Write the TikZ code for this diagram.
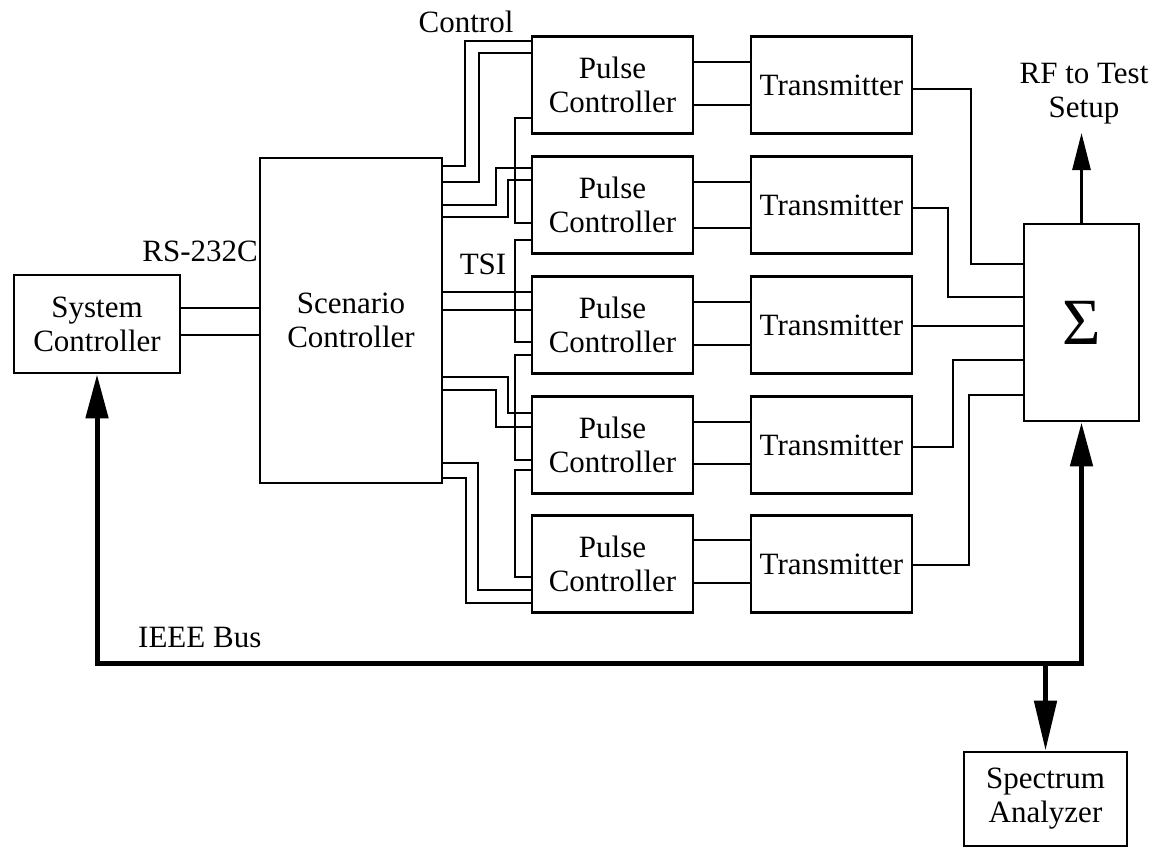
\documentclass[tikz,border=0pt]{standalone}
\usepackage{fontspec}
\setmainfont{Liberation Serif}
\usetikzlibrary{arrows.meta}
\begin{document}
\begin{tikzpicture}[x=1pt,y=-1pt,
  box/.style={draw, line width=2.8pt, inner sep=0pt, align=center, font=\fontsize{31}{34}\selectfont},
  pcbox/.style={box, minimum width=161pt, minimum height=97pt, anchor=north},
  wire/.style={line width=2.8pt, line join=miter},
  lbl/.style={inner sep=0pt, align=center, font=\fontsize{31}{34}\selectfont},
  bus/.style={line width=5pt, line join=miter}]
\useasboundingbox (0,0) rectangle (1158,848);

% main boxes
\node[box, minimum width=166pt, minimum height=98pt] (sys) at (97,324) {System\\Controller};
\node[box, minimum width=182pt, minimum height=325pt] (sc) at (351,320.5) {Scenario\\Controller};
\node[box, minimum width=115pt, minimum height=197pt, font=\fontsize{66}{66}\selectfont] (sig) at (1081.5,322.5) {Σ};
\node[box, minimum width=163pt, minimum height=94pt] (spec) at (1045.5,799) {Spectrum\\Analyzer};

\node[pcbox] (p1) at (612.5,35) {Pulse\\Controller};
\node[pcbox] (p2) at (612.5,155) {Pulse\\Controller};
\node[pcbox] (p3) at (612.5,275) {Pulse\\Controller};
\node[pcbox] (p4) at (612.5,395) {Pulse\\Controller};
\node[pcbox] (p5) at (612.5,514) {Pulse\\Controller};
\node[pcbox] (t1) at (831.5,35) {Transmitter};
\node[pcbox] (t2) at (831.5,155) {Transmitter};
\node[pcbox] (t3) at (831.5,275) {Transmitter};
\node[pcbox] (t4) at (831.5,395) {Transmitter};
\node[pcbox] (t5) at (831.5,514) {Transmitter};

% labels
\node[lbl] (ctl) at (466,22) {Control};
\node[lbl] (tsi) at (483,264) {TSI};
\node[lbl, anchor=east] (rs) at (258,251) {RS-232C};
\node[lbl] (rf) at (1084,94) {RF to Test\\Setup};
\node[lbl, anchor=west] (ieee) at (138,637) {IEEE Bus};

% RS-232C link
\draw[wire] (sys.east |- 0,308) -- (sc.west |- 0,308);
\draw[wire] (sys.east |- 0,335) -- (sc.west |- 0,335);

% control wires
\draw[wire] (sc.east |- 0,166) -| (465,41) -- (p1.west |- 0,41);
\draw[wire] (sc.east |- 0,182) -| (479,53) -- (p1.west |- 0,53);
\draw[wire] (sc.east |- 0,205) -| (496,168) -- (p2.west |- 0,168);
\draw[wire] (sc.east |- 0,217) -| (508,180) -- (p2.west |- 0,180);
\draw[wire] (sc.east |- 0,292) -- (p3.west |- 0,292);
\draw[wire] (sc.east |- 0,310) -- (p3.west |- 0,310);
\draw[wire] (sc.east |- 0,377) -| (508,413) -- (p4.west |- 0,413);
\draw[wire] (sc.east |- 0,390) -| (496,427) -- (p4.west |- 0,427);
\draw[wire] (sc.east |- 0,463) -| (478,590) -- (p5.west |- 0,590);
\draw[wire] (sc.east |- 0,478) -| (466,603) -- (p5.west |- 0,603);

% TSI chain
\draw[wire] (p1.west |- 0,118) -| (515,223) -- (p2.west |- 0,223);
\draw[wire] (p2.west |- 0,240) -| (515,342) -- (p3.west |- 0,342);
\draw[wire] (p3.west |- 0,355) -| (515,460) -- (p4.west |- 0,460);
\draw[wire] (p4.west |- 0,470) -| (515,577) -- (p5.west |- 0,577);

% pulse controller to transmitter
\draw[wire] (p1.east |- 0,62) -- (t1.west |- 0,62);
\draw[wire] (p1.east |- 0,105) -- (t1.west |- 0,105);
\draw[wire] (p2.east |- 0,182) -- (t2.west |- 0,182);
\draw[wire] (p2.east |- 0,228) -- (t2.west |- 0,228);
\draw[wire] (p3.east |- 0,302) -- (t3.west |- 0,302);
\draw[wire] (p3.east |- 0,345) -- (t3.west |- 0,345);
\draw[wire] (p4.east |- 0,422) -- (t4.west |- 0,422);
\draw[wire] (p4.east |- 0,464) -- (t4.west |- 0,464);
\draw[wire] (p5.east |- 0,540) -- (t5.west |- 0,540);
\draw[wire] (p5.east |- 0,583) -- (t5.west |- 0,583);

% transmitters to summer
\draw[wire] (t1.east |- 0,89) -| (971,264) -- (sig.west |- 0,264);
\draw[wire] (t2.east |- 0,208) -| (948,297) -- (sig.west |- 0,297);
\draw[wire] (t3.east |- 0,326) -- (sig.west |- 0,326);
\draw[wire] (t4.east |- 0,447) -| (953,360) -- (sig.west |- 0,360);
\draw[wire] (t5.east |- 0,565) -| (969,395) -- (sig.west |- 0,395);

% RF output
\draw[wire, -{Triangle[length=37pt,width=18pt]}] (sig.north) -- (sig.north |- 0,133);

% IEEE bus
\draw[bus, {Triangle[length=44pt,width=22pt]}-{Triangle[length=44pt,width=22pt]}] (sys.south) |- (sig.south |- 0,663) -- (sig.south);
\draw[bus, -{Triangle[length=50pt,width=22pt]}] (spec.north |- 0,663) -- (spec.north);
\end{tikzpicture}
\end{document}
